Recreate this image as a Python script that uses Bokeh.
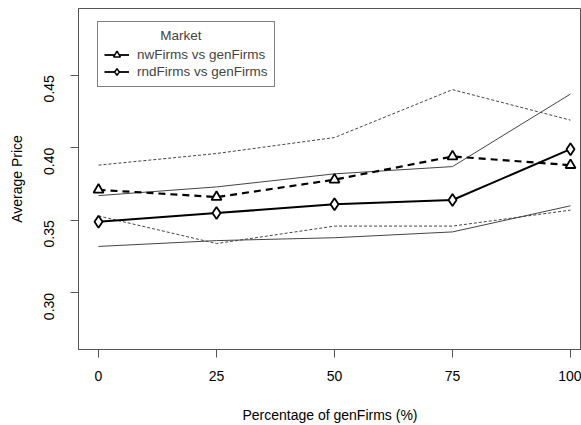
import math
from bokeh.plotting import figure
from bokeh.models import (Range1d, FixedTicker, Legend, LegendItem, PrintfTickFormatter)
from bokeh.embed import file_html
from bokeh.resources import INLINE

# data
pct = [0, 25, 50, 75, 100]
nw_mean = [0.371, 0.366, 0.378, 0.394, 0.388]
nw_upper = [0.388, 0.396, 0.407, 0.440, 0.419]
nw_lower = [0.353, 0.334, 0.346, 0.346, 0.357]
rnd_mean = [0.349, 0.355, 0.361, 0.364, 0.399]
rnd_upper = [0.367, 0.373, 0.382, 0.387, 0.437]
rnd_lower = [0.332, 0.336, 0.338, 0.342, 0.360]
x_ticks = [0, 25, 50, 75, 100]
y_ticks = [0.30, 0.35, 0.40, 0.45]
series_labels = ["nwFirms vs genFirms", "rndFirms vs genFirms"]
legend_title = "Market"
x_title = "Percentage of genFirms (%)"
y_title = "Average Price"

FONT = "Liberation Sans"
FRAME = "#555555"

p = figure(width=581, height=425, output_backend="svg", toolbar_location=None,
           x_range=Range1d(-4.24, 102.33), y_range=Range1d(0.261, 0.4959),
           min_border_left=78, min_border_right=0, min_border_top=8, min_border_bottom=74)
p.xgrid.visible = False
p.ygrid.visible = False
p.outline_line_color = FRAME
p.outline_line_width = 1
p.background_fill_color = "white"
p.border_fill_color = "white"

# an off-frame range used only by the legend swatch renderers
p.extra_y_ranges = {"legend_only": Range1d(10, 11)}

# confidence band lines (thin)
p.line(pct, nw_upper, line_color="#444444", line_width=1, line_dash="3 2")
p.line(pct, nw_lower, line_color="#444444", line_width=1, line_dash="3 2")
p.line(pct, rnd_upper, line_color="#444444", line_width=1)
p.line(pct, rnd_lower, line_color="#444444", line_width=1)

# main series
p.line(pct, nw_mean, line_color="black", line_width=2.2, line_dash="7 5")
p.scatter(pct, nw_mean, marker="triangle", size=10, fill_color="white",
          line_color="black", line_width=1.8)
p.line(pct, rnd_mean, line_color="black", line_width=2)
p.scatter(pct, rnd_mean, marker="diamond", size=12, fill_color="white",
          line_color="black", line_width=1.8)

# legend swatches: same data, mapped outside the visible frame
l1 = p.line(pct, nw_mean, y_range_name="legend_only", line_color="black", line_width=1.8)
m1 = p.scatter(pct, nw_mean, y_range_name="legend_only", marker="triangle", size=9,
               fill_color="white", line_color="black", line_width=1.5)
l2 = p.line(pct, rnd_mean, y_range_name="legend_only", line_color="black", line_width=1.8)
m2 = p.scatter(pct, rnd_mean, y_range_name="legend_only", marker="diamond", size=11,
               fill_color="white", line_color="black", line_width=1.5)

legend = Legend(items=[LegendItem(label=series_labels[0], renderers=[l1, m1]),
                       LegendItem(label=series_labels[1], renderers=[l2, m2])],
                location=(19, 262))
legend.title = "\u00a0" * 15 + legend_title
legend.title_text_font = FONT
legend.title_text_font_size = "13.5px"
legend.title_text_font_style = "normal"
legend.title_standoff = 3
legend.label_text_font = FONT
legend.label_text_font_size = "13.5px"
legend.label_standoff = 8
legend.label_height = 17
legend.glyph_height = 17
legend.glyph_width = 25
legend.spacing = 0
legend.padding = 6
legend.margin = 0
legend.border_line_color = "black"
legend.border_line_width = 1
legend.background_fill_color = "white"
legend.background_fill_alpha = 1
p.add_layout(legend)

# axes
p.xaxis.ticker = FixedTicker(ticks=x_ticks)
p.xaxis.formatter = PrintfTickFormatter(format="%d")
p.yaxis.ticker = FixedTicker(ticks=y_ticks)
p.yaxis.formatter = PrintfTickFormatter(format="%.2f")
p.yaxis.major_label_orientation = math.pi / 2

for ax in (p.xaxis, p.yaxis):
    ax.axis_line_color = FRAME
    ax.major_tick_line_color = FRAME
    ax.major_tick_out = 8
    ax.major_tick_in = 0
    ax.minor_tick_line_color = None
    ax.major_label_text_font = FONT
    ax.major_label_text_font_size = "14px"
    ax.major_label_text_color = "black"
    ax.axis_label_text_font = FONT
    ax.axis_label_text_font_size = "14px"
    ax.axis_label_text_font_style = "normal"
    ax.axis_label_text_color = "black"

p.xaxis.major_label_standoff = 13
p.yaxis.major_label_standoff = 21
p.xaxis.axis_label = x_title
p.yaxis.axis_label = y_title
p.xaxis.axis_label_standoff = 23
p.yaxis.axis_label_standoff = 12

open("out.html", "w").write(file_html(p, INLINE))
